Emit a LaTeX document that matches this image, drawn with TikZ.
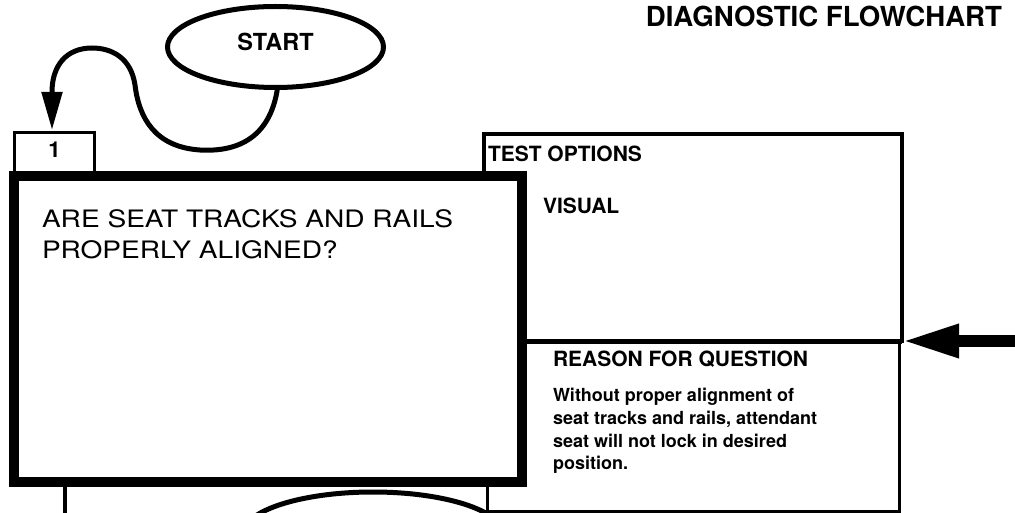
\documentclass[tikz,border=0pt]{standalone}
\usepackage{fontspec}
\setmainfont{TeX Gyre Heros}
\newfontfamily\widesans[FakeStretch=1.17]{TeX Gyre Heros}
\usetikzlibrary{arrows.meta,shapes.geometric}
\begin{document}
\begin{tikzpicture}[x=1pt,y=-1pt,
  every node/.style={outer sep=0pt},
  hdr/.style={font=\fontsize{21}{25}\selectfont\bfseries, inner sep=0pt, anchor=base west},
  bodytext/.style={font=\fontsize{18}{22.8}\selectfont\bfseries, inner sep=0pt, anchor=north west, align=left},
  thinbox/.style={draw, line width=3.5pt, inner sep=0pt, anchor=north west},
  heavybox/.style={draw, fill=white, line width=10.5pt, inner sep=0pt, anchor=north west},
  oval/.style={ellipse, draw, line width=5pt, inner sep=0pt},
  flow/.style={line width=5pt, -{Triangle[length=38pt,width=20pt]}},
  feedarrow/.style={line width=12pt, -{Triangle[length=57pt,width=31pt]}}
]
\useasboundingbox (0,0) rectangle (1015,513);
\clip (0,0) rectangle (1015,513);

% title
\node[font=\fontsize{27.6}{32}\selectfont\bfseries, inner sep=0pt, anchor=base east] (title) at (1002,27) {DIAGNOSTIC FLOWCHART};

% start oval
\node[oval, minimum width=216pt, minimum height=81pt, text depth=10pt,
      font=\fontsize{23.5}{28}\selectfont\bfseries] (start) at (275.5,47) {START};

% step number box
\node[thinbox, line width=3pt, minimum width=80pt, minimum height=41pt, text depth=7pt,
      font=\fontsize{22}{26}\selectfont\bfseries] (one) at (14.5,133) {1};

% test options and reason boxes
\node[thinbox, minimum width=418pt, minimum height=207pt] (test) at (484,134) {};
\node[thinbox, line width=3pt, minimum width=412pt, minimum height=170pt] (reason) at (487,341) {};
\draw[line width=5pt] (reason.north west) -- (test.south east);

% main question box
\node[heavybox, minimum width=508pt, minimum height=306pt] (main) at (14,176) {};
\node[font=\fontsize{24}{31}\widesans, inner sep=0pt, anchor=north west, align=left] (question) at (42,209.7)
  {ARE SEAT TRACKS AND RAILS\\PROPERLY ALIGNED?};

% texts in right boxes
\node[hdr] (testlbl) at (488,162) {TEST OPTIONS};
\node[hdr] (visual) at (543,214) {VISUAL};
\node[hdr] (reasonlbl) at (553,366) {REASON FOR QUESTION};
\node[bodytext] (reasontxt) at (553,388)
  {Without proper alignment of\\seat tracks and rails, attendant\\seat will not lock in desired\\position.};

% connectors
\draw[flow] (start.-87) .. controls (270,140) and (235,152) .. (200,150)
  .. controls (155,147) and (139,118) .. (135,85)
  .. controls (131,58) and (112,48) .. (92,48)
  .. controls (66,48) and (52,66) .. (52,92) -- ([xshift=-2.5pt,yshift=3pt]one.north);

\coordinate (feed) at (1030,341);
\draw[feedarrow] (feed) -- (test.south east);

\coordinate (down) at (65,530);
\draw[line width=4.5pt] (main.south west -| down) -- (down);

% next shape (partly visible)
\node[oval, minimum width=260pt, minimum height=84pt] (next) at (373,534) {};
\end{tikzpicture}
\end{document}
